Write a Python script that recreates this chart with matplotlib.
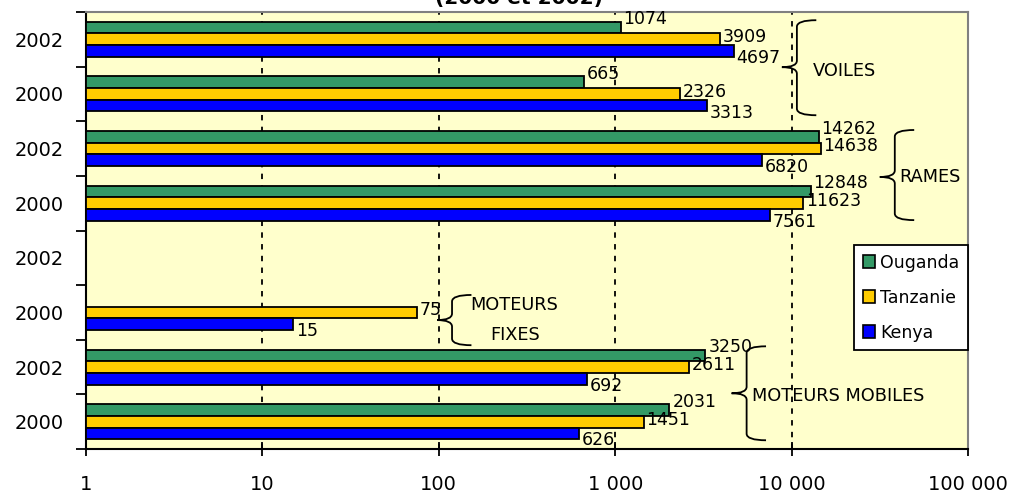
import numpy as np
import matplotlib
matplotlib.use("Agg")
import matplotlib.pyplot as plt
from matplotlib.patches import Patch, PathPatch
from matplotlib.path import Path
from matplotlib.transforms import blended_transform_factory
from matplotlib.ticker import FixedLocator, NullFormatter, FuncFormatter

# ---------------- data ----------------
year_labels = ["2002", "2000", "2002", "2000", "2002", "2000", "2002", "2000"]
groups = ["VOILES", "RAMES", "MOTEURS\nFIXES", "MOTEURS MOBILES"]
series_names = ["Ouganda", "Tanzanie", "Kenya"]
ouganda = [1074, 665, 14262, 12848, None, None, 3250, 2031]
tanzanie = [3909, 2326, 14638, 11623, None, 75, 2611, 1451]
kenya = [4697, 3313, 6820, 7561, None, 15, 692, 626]
x_ticks = [1, 10, 100, 1000, 10000, 100000]
title = "(2000 et 2002)"

# ---------------- style ----------------
colors = ["#339966", "#FFCC00", "#0000FF"]
bg = "#FFFFCC"
plt.rcParams["font.family"] = ["DejaVu Sans"]

fig = plt.figure(figsize=(10.12, 4.93), dpi=100)
ax = fig.add_axes([86 / 1012, 44 / 493, 882 / 1012, 437 / 493])
ax.set_facecolor(bg)
ax.set_xscale("log")
ax.set_xlim(1, 100000)
n = len(year_labels)
ax.set_ylim(n - 0.5, -0.5)

bar_h = 0.213
offsets = [-bar_h, 0.0, bar_h]
label_dy = [6, 1.5, -5]  # label vertical offsets in points per series (up positive)
all_series = [ouganda, tanzanie, kenya]

for s, (vals, col, off, dy) in enumerate(zip(all_series, colors, offsets, label_dy)):
    ys = [i + off for i, v in enumerate(vals) if v is not None]
    ws = [v for v in vals if v is not None]
    ax.barh(ys, [w - 1 for w in ws], left=1, height=bar_h, color=col,
            edgecolor="black", linewidth=1.3, zorder=3,
            label=series_names[s])
    for y, w in zip(ys, ws):
        ax.annotate(str(w), (w, y), xytext=(2, dy), textcoords="offset points",
                    ha="left", va="center", fontsize=12.5, zorder=5)

# gridlines
for xv in x_ticks[1:-1]:
    ax.axvline(xv, color="black", lw=1.3, linestyle=(0, (3, 3.5)), zorder=2)

# ticks
ax.xaxis.set_major_locator(FixedLocator(x_ticks))
ax.xaxis.set_minor_formatter(NullFormatter())
ax.xaxis.set_minor_locator(FixedLocator([]))
ax.xaxis.set_major_formatter(FuncFormatter(lambda v, p: f"{int(round(v)):,}".replace(",", " ")))
ax.tick_params(axis="x", which="major", direction="inout", length=10, width=1.3,
               pad=14, labelsize=14)
ax.set_yticks(range(n))
ax.set_yticklabels(year_labels)
ax.set_yticks(np.arange(-0.5, n, 1.0), minor=True)
ax.tick_params(axis="y", which="major", length=0, pad=16, labelsize=14)
ax.tick_params(axis="y", which="minor", direction="out", length=7, width=1.3)

for side in ["left", "bottom"]:
    ax.spines[side].set_color("black")
    ax.spines[side].set_linewidth(1.5)
for side in ["top", "right"]:
    ax.spines[side].set_color("#808080")
    ax.spines[side].set_linewidth(1.5)

# braces
tr = blended_transform_factory(ax.transAxes, ax.transData)

def brace(xs, y0, y1, ym, w_hook=0.022, w_tip=0.017, r=0.12):
    verts = [
        (xs + w_hook, y0), (xs, y0), (xs, y0 + r),
        (xs, ym - r), (xs, ym), (xs - w_tip, ym),
        (xs, ym), (xs, ym + r),
        (xs, y1 - r), (xs, y1), (xs + w_hook, y1),
    ]
    codes = [Path.MOVETO, Path.CURVE3, Path.CURVE3,
             Path.LINETO, Path.CURVE3, Path.CURVE3,
             Path.CURVE3, Path.CURVE3,
             Path.LINETO, Path.CURVE3, Path.CURVE3]
    ax.add_patch(PathPatch(Path(verts, codes), transform=tr, fill=False,
                           lw=1.3, color="black", clip_on=False, zorder=6))

brace_specs = [
    (0.806, -0.35, 1.39, 0.51),
    (0.917, 1.66, 3.31, 2.52),
    (0.415, 4.68, 5.60, 5.14),
    (0.749, 5.62, 7.34, 6.48),
]
for xs, y0, y1, ym in brace_specs:
    brace(xs, y0, y1, ym)

ax.text(0.824, 0.58, groups[0], transform=tr, ha="left", va="center", fontsize=12.8, zorder=6)
ax.text(0.922, 2.52, groups[1], transform=tr, ha="left", va="center", fontsize=12.8, zorder=6)
ax.text(0.486, 5.14, groups[2], transform=tr, ha="center", va="center", fontsize=12.8,
        linespacing=1.9, zorder=6)
ax.text(0.755, 6.53, groups[3], transform=tr, ha="left", va="center", fontsize=12.8, zorder=6)

# legend
handles = [Patch(facecolor=c, edgecolor="black", linewidth=1.2) for c in colors]
leg = ax.legend(handles, series_names, loc="upper right", bbox_to_anchor=(1.0, 0.467),
                borderaxespad=0, fontsize=12.5, handlelength=0.7, handleheight=0.7,
                handletextpad=0.3, labelspacing=0.98, fancybox=False, framealpha=1,
                facecolor="white", edgecolor="black", borderpad=0.5)
leg.get_frame().set_linewidth(1.3)
leg.set_zorder(7)

fig.text(519 / 1012, 1 - 4 / 493, title, ha="center", va="baseline", fontsize=14.5,
         fontweight="bold")

fig.savefig("out.png", dpi=100, facecolor="white")
